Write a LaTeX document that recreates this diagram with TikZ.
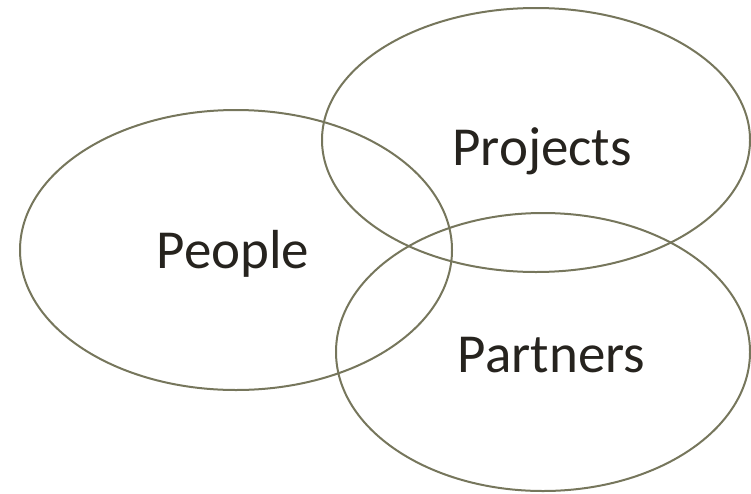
\documentclass[tikz,border=0pt]{standalone}
\usepackage{fontspec}
\setmainfont{Carlito}
\usetikzlibrary{shapes.geometric,positioning}
\definecolor{setline}{RGB}{118,118,92}
\definecolor{settext}{RGB}{38,35,30}

\begin{document}
\begin{tikzpicture}[
    x=1pt,
    y=-1pt,
    font=\fontsize{55}{60}\selectfont,
    set/.style={
		ellipse,
		draw=setline,
		line width=2pt,
		inner sep=0pt
	},
	setname/.style={
		anchor=base,
		text=settext
	}
  ]

 \useasboundingbox (0,0) rectangle (751,493);

% // the three sets
 \node [set, minimum width=432pt, minimum height=280pt] (people) at (236,250) {};
 \node [set, minimum width=428pt, minimum height=264pt] (projects) at (536,140) {};
 \node [set, minimum width=414pt, minimum height=278pt] (partners) at (543,352) {};

% // set names
 \node [setname] (peoplename) at (233,268) {People};
 \node [setname] (projectsname) at (542,165) {Projects};
 \node [setname] (partnersname) at (551.5,372) {Partners};

\end{tikzpicture}
\end{document}
